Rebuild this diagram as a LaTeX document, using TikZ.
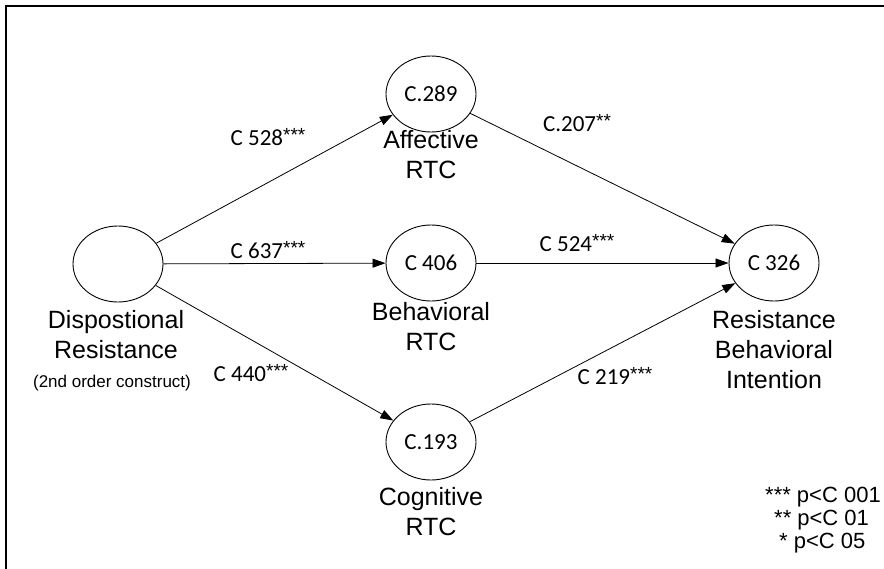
\documentclass[tikz,border=0pt]{standalone}
\usepackage{fontspec}
\setmainfont{Liberation Sans}
\newfontfamily\carl{Carlito}
\usetikzlibrary{shapes.geometric,arrows.meta}
\tikzset{
  latent/.style={draw, ellipse, minimum width=90pt, minimum height=76pt, inner sep=0pt, line width=0.9pt, font=\carl\fontsize{23}{23}\selectfont},
  capt/.style={align=center, inner sep=0pt, font=\fontsize{25}{30}\selectfont},
  note/.style={inner sep=0pt, font=\fontsize{17}{17}\selectfont},
  coef/.style={inner sep=0pt, font=\carl\fontsize{23}{23}\selectfont},
  pth/.style={-{Triangle[length=13pt,width=9pt]}, line width=0.8pt},
  legend/.style={inner sep=0pt, anchor=west, font=\fontsize{22}{22}\selectfont}
}
\newcommand{\stars}[1]{\raisebox{4pt}{\fontsize{19}{19}\selectfont\rmfamily #1}}
\begin{document}
\begin{tikzpicture}[x=1pt,y=-1pt]
\useasboundingbox (0,0) rectangle (884,568);
\clip (0,0) rectangle (884,568);
\draw[line width=2pt] (6,6) rectangle (920,600);

\node[latent] (dis) at (118,264) {};
\node[latent] (aff) at (431,94) {C.289};
\node[latent] (beh) at (431,263) {C 406};
\node[latent] (cog) at (431,442) {C.193};
\node[latent] (res) at (774,263) {C 326};

\node[capt] (disc) at (116,335) {Dispostional\\Resistance};
\node[note] (disn) at (112,383) {(2nd order construct)};
\node[capt] (affc) at (431,155) {Affective\\RTC};
\node[capt] (behc) at (431,327) {Behavioral\\RTC};
\node[capt] (cogc) at (431,512) {Cognitive\\RTC};
\node[capt] (resc) at (774,350) {Resistance\\Behavioral\\Intention};

\draw[pth] (dis) -- (aff);
\draw[pth] (dis) -- (beh);
\draw[pth] (dis) -- (cog);
\draw[pth] (aff) -- (res);
\draw[pth] (beh) -- (res);
\draw[pth] (cog) -- (res);

\node[coef] (c1) at (268,137) {C 528\stars{***}};
\node[coef] (c2) at (268,250) {C 637\stars{***}};
\node[coef] (c3) at (251,373) {C 440\stars{***}};
\node[coef] (c4) at (577,123) {C.207\stars{**}};
\node[coef] (c5) at (577,243) {C 524\stars{***}};
\node[coef] (c6) at (615,376) {C 219\stars{***}};

\node[legend] (l1) at (765,497) {*** p<C 001};
\node[legend] (l2) at (774,520) {** p<C 01};
\node[legend] (l3) at (779,543) {* p<C 05};
\end{tikzpicture}
\end{document}
